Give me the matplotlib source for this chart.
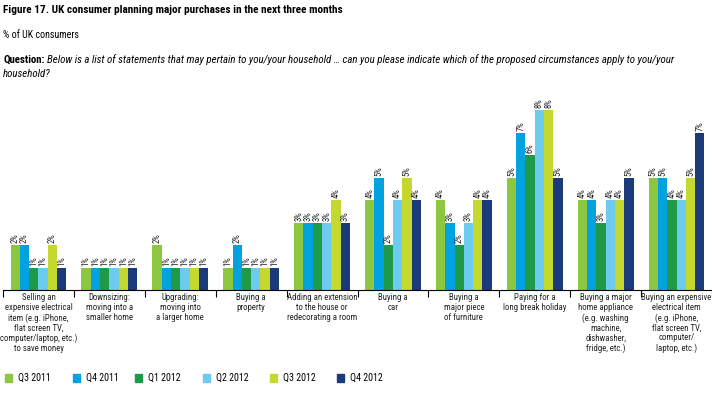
import matplotlib
matplotlib.use("Agg")
import matplotlib.pyplot as plt
import numpy as np

FONT = 'Roboto Condensed'
plt.rcParams['font.family'] = [FONT, 'DejaVu Sans']

categories = [
    "Selling an\nexpensive electrical\nitem (e.g. iPhone,\nflat screen TV,\ncomputer/laptop, etc.)\nto save money",
    "Downsizing:\nmoving into a\nsmaller home",
    "Upgrading:\nmoving into\na larger home",
    "Buying a\nproperty",
    "Adding an extension\nto the house or\nredecorating a room",
    "Buying a\ncar",
    "Buying a\nmajor piece\nof furniture",
    "Paying for a\nlong break holiday",
    "Buying a major\nhome appliance\n(e.g. washing\nmachine,\ndishwasher,\nfridge, etc.)",
    "Buying an expensive\nelectrical item\n(e.g. iPhone,\nflat screen TV,\ncomputer/\nlaptop, etc.)",
]
series_names = ["Q3 2011", "Q4 2011", "Q1 2012", "Q2 2012", "Q3 2012", "Q4 2012"]
q3_2011 = [2, 1, 2, 1, 3, 4, 4, 5, 4, 5]
q4_2011 = [2, 1, 1, 2, 3, 5, 3, 7, 4, 5]
q1_2012 = [1, 1, 1, 1, 3, 2, 2, 6, 3, 4]
q2_2012 = [1, 1, 1, 1, 3, 4, 3, 8, 4, 4]
q3_2012 = [2, 1, 1, 1, 4, 5, 4, 8, 4, 5]
q4_2012 = [1, 1, 1, 1, 3, 4, 4, 5, 5, 7]
series = [q3_2011, q4_2011, q1_2012, q2_2012, q3_2012, q4_2012]
colors = ["#8DC63F", "#00A3E0", "#1E9A48", "#6CCBEF", "#C4D82E", "#1B3A7A"]

fig = plt.figure(figsize=(7.12, 3.97), dpi=100)
W, H = 712, 397
base_px = 290
unit_px = 22.5
ymax = 9
ax = fig.add_axes([3 / W, 1 - base_px / H, 709 / W, ymax * unit_px / H])

n = len(categories)
x = np.arange(n)
bw = 0.131
for k, (vals, c) in enumerate(zip(series, colors)):
    pos = x + (k - 2.5) * bw
    ax.bar(pos, vals, width=bw, color=c, label=series_names[k], linewidth=0)
    for px_, v in zip(pos, vals):
        ax.text(px_, v + 0.08, f"{v}%", rotation=90, ha='center', va='bottom',
                fontsize=6.2, color='#222222')

ax.set_xlim(-0.5, n - 0.5)
ax.set_ylim(0, ymax)
for s in ['top', 'right', 'left']:
    ax.spines[s].set_visible(False)
ax.spines['bottom'].set_linewidth(0.8)
ax.set_yticks([])
ax.set_xticks(np.arange(-0.5, n, 1.0))
ax.set_xticklabels([])
ax.tick_params(axis='x', length=5, width=0.8, direction='out')

for i, cat in enumerate(categories):
    ax.text(i, -0.15, cat, ha='center', va='top', fontsize=6.3, linespacing=1.12,
            color='#222222')

# titles
fig.text(3 / W, 1 - 10 / H, "Figure 17. UK consumer planning major purchases in the next three months",
         fontsize=8.1, fontweight='bold', va='center', ha='left')
fig.text(3 / W, 1 - 35 / H, "% of UK consumers", fontsize=7.2, va='center', ha='left')
q = fig.text(3 / W, 1 - 60 / H, "Question:", fontsize=7.8, fontweight='bold', va='center', ha='left')
fig.canvas.draw()
bb = q.get_window_extent()
fig.text((bb.x1 + 3) / W, 1 - 60 / H,
         "Below is a list of statements that may pertain to you/your household \u2026 can you please indicate which of the proposed circumstances apply to you/your",
         fontsize=7.8, style='italic', va='center', ha='left')
fig.text(3 / W, 1 - 74 / H, "household?", fontsize=7.8, style='italic', va='center', ha='left')

# legend
leg_x = [5, 73, 135, 203, 270, 337]
for lx, name, c in zip(leg_x, series_names, colors):
    fig.patches.append(plt.Rectangle((lx / W, 1 - 382 / H), 7 / W, 8 / H, color=c,
                                     transform=fig.transFigure, figure=fig))
    fig.text((lx + 13) / W, 1 - 378 / H, name, fontsize=7.2, va='center', ha='left')

fig.savefig("out.png", dpi=100)
